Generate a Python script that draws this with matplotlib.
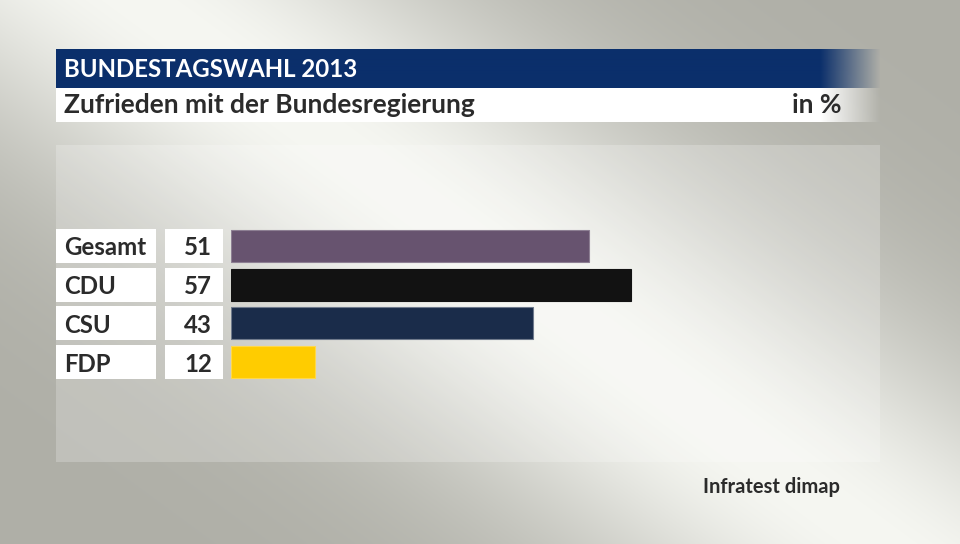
import numpy as np
import matplotlib
matplotlib.use('Agg')
import matplotlib.pyplot as plt
from matplotlib.patches import Rectangle
from matplotlib.transforms import blended_transform_factory

# ---- data ----
categories = ['Gesamt', 'CDU', 'CSU', 'FDP']
values = [51, 57, 43, 12]
colors = ['#67536f', '#121212', '#1a2c4a', '#ffcc00']
edges = ['#8d7f93', '#121212', '#6f7a8c', '#ffd84a']
title = 'BUNDESTAGSWAHL 2013'
subtitle = 'Zufrieden mit der Bundesregierung'
unit = 'in %'
source = 'Infratest dimap'

FONT = 'Lato'
TXT = '#2b2b2b'
W, H = 960, 544

fig = plt.figure(figsize=(9.6, 5.44), dpi=100)
bg = fig.add_axes([0, 0, 1, 1])
bg.axis('off')

# background gradient (diagonal light band)
yy, xx = np.mgrid[0:H, 0:W] + 0.5
u = np.array([550.0, 404.0]); u /= np.linalg.norm(u)
n = np.array([-u[1], u[0]])
d = (xx - 330) * n[0] + (yy - 140) * n[1]
t = np.exp(-(d / 190.0) ** 2)
gray = np.array([175, 175, 167]) / 255
light = np.array([246, 247, 242]) / 255
img = gray + (light - gray) * t[..., None]
bg.imshow(img, extent=(0, W, H, 0), zorder=0, interpolation='bilinear', aspect='auto')

# lighter panel
bg.add_patch(Rectangle((56, 145), 824, 317, fc='white', alpha=0.22, lw=0, zorder=1))

# header bars with fade on the right
def fade_bar(x0, x1, y0, y1, rgb, fade_start):
    w = int(x1 - x0)
    xs = np.arange(w) + x0
    a = np.clip((x1 - xs) / (x1 - fade_start), 0, 1)
    rgba = np.zeros((1, w, 4))
    rgba[0, :, :3] = rgb
    rgba[0, :, 3] = a
    bg.imshow(rgba, extent=(x0, x1, y1, y0), zorder=2, interpolation='bilinear', aspect='auto')

fade_bar(56, 880, 49, 88, np.array([11, 47, 107]) / 255, 820)
fade_bar(56, 880, 88, 122, np.array([1.0, 1.0, 1.0]), 820)
bg.set_xlim(0, W); bg.set_ylim(H, 0)

bg.text(64, 69.5, title, color='white', fontsize=17.3, fontweight='bold', family=FONT,
        va='center', ha='left', zorder=5)
bg.text(64, 105, subtitle, color=TXT, fontsize=19, fontweight='bold', family=FONT,
        va='center', ha='left', zorder=5)
bg.text(842, 105, unit, color=TXT, fontsize=19, fontweight='bold', family=FONT,
        va='center', ha='right', zorder=5)
bg.text(840, 487, source, color=TXT, fontsize=14.5, fontweight='bold', family=FONT,
        va='center', ha='right', zorder=5)

# bar axes: 100 units -> 702 px, rows pitch ~38.67 px
pitch = 38.67
top_px = 246 - pitch / 2
bot_px = 362 + pitch / 2
ax = fig.add_axes([231 / W, 1 - bot_px / H, 702 / W, (bot_px - top_px) / H])
ax.patch.set_alpha(0)
ax.set_xlim(0, 100)
ax.set_ylim(len(categories) - 0.5, -0.5)
ax.axis('off')
ypos = np.arange(len(categories))
ax.barh(ypos, values, height=0.83, color=colors, edgecolor=edges, linewidth=0.8, zorder=3)

tr = blended_transform_factory(bg.transData, ax.transData)
bh = 0.88
for i, (cat, v) in enumerate(zip(categories, values)):
    ax.add_patch(Rectangle((56, i - bh / 2), 100, bh, transform=tr, fc='white', lw=0,
                           clip_on=False, zorder=2))
    ax.add_patch(Rectangle((165, i - bh / 2), 58, bh, transform=tr, fc='white', lw=0,
                           clip_on=False, zorder=2))
    ax.text(64, i, cat, transform=tr, color=TXT, fontsize=17.3, fontweight='bold',
            family=FONT, va='center_baseline', ha='left', zorder=4, clip_on=False)
    ax.text(212, i, str(v), transform=tr, color=TXT, fontsize=17.3, fontweight='bold',
            family=FONT, va='center_baseline', ha='right', zorder=4, clip_on=False)

fig.savefig('out.png', dpi=100)
